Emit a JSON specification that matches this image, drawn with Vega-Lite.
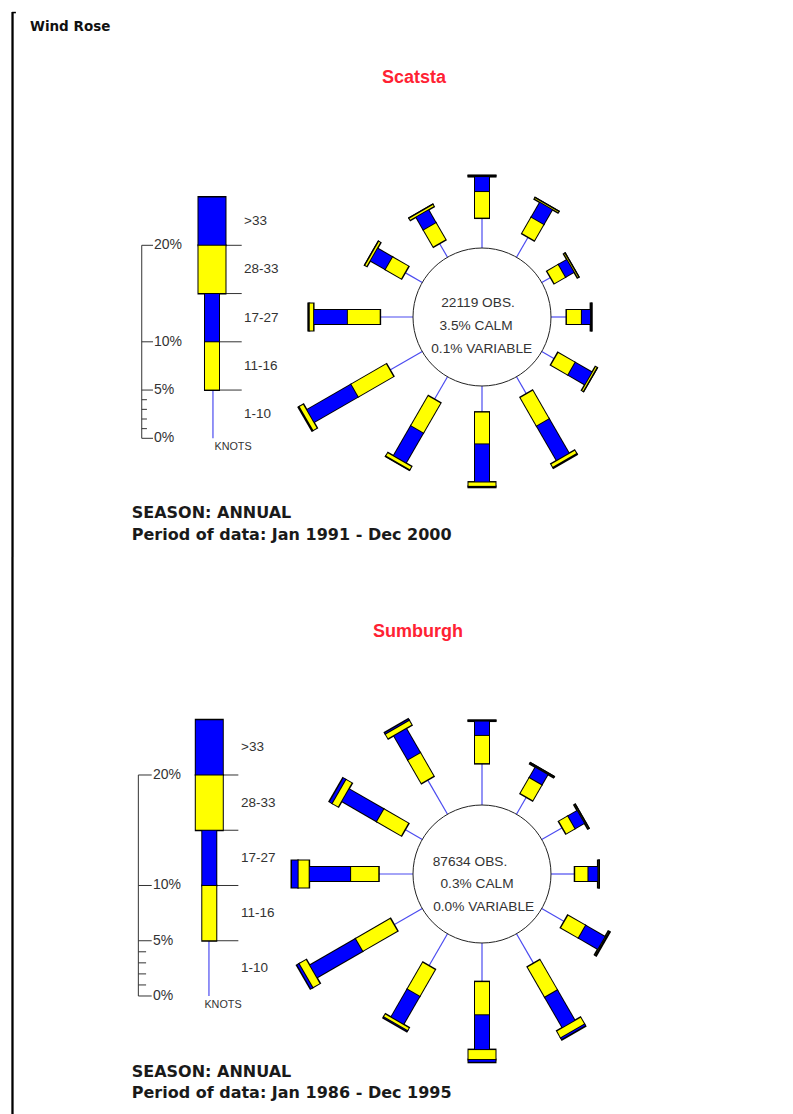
{
  "$schema": "https://vega.github.io/schema/vega-lite/v6.json",
  "padding": 0,
  "spacing": 0,
  "bounds": "flush",
  "background": "#ffffff",
  "config": {"view": {"stroke": null}, "concat": {"spacing": 0}},
  "datasets": {
    "rose": [
      {"station": "Scatsta", "dir": 0, "c1": 3.1, "c2": 2.75, "c3": 1.55, "c4": 0.1, "c5": 0},
      {"station": "Scatsta", "dir": 30, "c1": 2.4, "c2": 1.95, "c3": 1.8, "c4": 0.15, "c5": 0},
      {"station": "Scatsta", "dir": 60, "c1": 1.05, "c2": 1.35, "c3": 1.05, "c4": 0.15, "c5": 0},
      {"station": "Scatsta", "dir": 90, "c1": 1.6, "c2": 1.55, "c3": 0.95, "c4": 0.1, "c5": 0},
      {"station": "Scatsta", "dir": 120, "c1": 1.5, "c2": 2.05, "c3": 2.05, "c4": 0.2, "c5": 0},
      {"station": "Scatsta", "dir": 150, "c1": 2.05, "c2": 3.4, "c3": 4.15, "c4": 0.4, "c5": 0.1},
      {"station": "Scatsta", "dir": 180, "c1": 2.7, "c2": 3.3, "c3": 3.95, "c4": 0.45, "c5": 0.1},
      {"station": "Scatsta", "dir": 210, "c1": 2.7, "c2": 3.6, "c3": 3.6, "c4": 0.4, "c5": 0.05},
      {"station": "Scatsta", "dir": 240, "c1": 3.85, "c2": 4.25, "c3": 5.3, "c4": 0.5, "c5": 0.1},
      {"station": "Scatsta", "dir": 270, "c1": 3.4, "c2": 3.4, "c3": 3.5, "c4": 0.45, "c5": 0.1},
      {"station": "Scatsta", "dir": 300, "c1": 2.05, "c2": 1.95, "c3": 1.8, "c4": 0.25, "c5": 0},
      {"station": "Scatsta", "dir": 330, "c1": 1.65, "c2": 2.05, "c3": 1.55, "c4": 0.25, "c5": 0},
      {"station": "Sumburgh", "dir": 0, "c1": 3.75, "c2": 2.55, "c3": 1.3, "c4": 0.05, "c5": 0},
      {"station": "Sumburgh", "dir": 30, "c1": 1.8, "c2": 1.65, "c3": 1.1, "c4": 0.1, "c5": 0},
      {"station": "Sumburgh", "dir": 60, "c1": 2.15, "c2": 0.95, "c3": 1.0, "c4": 0.1, "c5": 0},
      {"station": "Sumburgh", "dir": 90, "c1": 2.15, "c2": 1.2, "c3": 0.9, "c4": 0.1, "c5": 0},
      {"station": "Sumburgh", "dir": 120, "c1": 2.35, "c2": 1.85, "c3": 2.05, "c4": 0.1, "c5": 0.05},
      {"station": "Sumburgh", "dir": 150, "c1": 3.1, "c2": 3.15, "c3": 3.2, "c4": 0.7, "c5": 0.2},
      {"station": "Sumburgh", "dir": 180, "c1": 3.5, "c2": 3.0, "c3": 3.15, "c4": 0.9, "c5": 0.25},
      {"station": "Sumburgh", "dir": 210, "c1": 3.35, "c2": 2.8, "c3": 2.95, "c4": 0.3, "c5": 0.1},
      {"station": "Sumburgh", "dir": 240, "c1": 2.95, "c2": 3.65, "c3": 4.8, "c4": 0.75, "c5": 0.25},
      {"station": "Sumburgh", "dir": 270, "c1": 3.1, "c2": 2.55, "c3": 3.75, "c4": 1.0, "c5": 0.6},
      {"station": "Sumburgh", "dir": 300, "c1": 1.8, "c2": 2.6, "c3": 3.65, "c4": 0.65, "c5": 0.3},
      {"station": "Sumburgh", "dir": 330, "c1": 3.6, "c2": 2.45, "c3": 2.55, "c4": 0.5, "c5": 0.15}
    ],
    "classes": [
      {"k": "c1", "label": "1-10"},
      {"k": "c2", "label": "11-16"},
      {"k": "c3", "label": "17-27"},
      {"k": "c4", "label": "28-33"},
      {"k": "c5", "label": ">33"}
    ],
    "ticks": [
      {"v": 0, "lab": "0%", "major": 1},
      {"v": 1, "lab": "", "major": 0},
      {"v": 2, "lab": "", "major": 0},
      {"v": 3, "lab": "", "major": 0},
      {"v": 4, "lab": "", "major": 0},
      {"v": 5, "lab": "5%", "major": 1},
      {"v": 10, "lab": "10%", "major": 1},
      {"v": 20, "lab": "20%", "major": 1}
    ]
  },
  "vconcat": [
    {
      "width": 793,
      "height": 557,
      "layer": [
        {"data": {"values": [{}]},
         "transform": [{"calculate": "-48.65", "as": "bx"}, {"calculate": "31.6", "as": "bt"}, {"calculate": "-24.87", "as": "bb"}],
         "mark": {"type": "rule", "color": "#000000", "strokeWidth": 2.3},
         "encoding": {"x": {"field": "bx", "type": "quantitative", "scale": {"domain": [-49.948, 32.228]}, "axis": null},
                      "y": {"field": "bt", "type": "quantitative", "scale": {"domain": [-24.87, 32.85]}, "axis": null},
                      "y2": {"field": "bb"}}},
        {"data": {"values": [{}]},
         "transform": [{"calculate": "-48.7", "as": "tx0"}, {"calculate": "-48.3", "as": "tx1"}, {"calculate": "31.55", "as": "ty"}],
         "mark": {"type": "rule", "color": "#000000", "strokeWidth": 1.5},
         "encoding": {"x": {"field": "tx0", "type": "quantitative", "scale": {"domain": [-49.948, 32.228]}, "axis": null},
                      "x2": {"field": "tx1"},
                      "y": {"field": "ty", "type": "quantitative", "scale": {"domain": [-24.87, 32.85]}, "axis": null}}},
        {"data": {"values": [{}]}, "mark": {"type": "text", "text": "Wind Rose", "align": "left", "baseline": "middle", "font": "DejaVu Sans", "fontWeight": "bold", "fontSize": 13.5, "color": "#111111"},
         "encoding": {"x": {"datum": -46.84, "type": "quantitative", "scale": {"domain": [-49.948, 32.228]}, "axis": null},
                      "y": {"datum": 30.1, "type": "quantitative", "scale": {"domain": [-24.87, 32.85]}, "axis": null}}},
        {"data": {"values": [{}]}, "mark": {"type": "text", "text": "Scatsta", "align": "center", "baseline": "middle", "font": "Liberation Sans", "fontWeight": "bold", "fontSize": 18, "color": "#ff2233"},
         "encoding": {"x": {"datum": -7.05, "type": "quantitative", "scale": {"domain": [-49.948, 32.228]}, "axis": null},
                      "y": {"datum": 24.77, "type": "quantitative", "scale": {"domain": [-24.87, 32.85]}, "axis": null}}},
        {"data": {"values": [{}]}, "mark": {"type": "text", "text": "SEASON: ANNUAL", "align": "left", "baseline": "middle", "font": "DejaVu Sans", "fontWeight": "bold", "fontSize": 16, "color": "#1a1a1a"},
         "encoding": {"x": {"datum": -36.3, "type": "quantitative", "scale": {"domain": [-49.948, 32.228]}, "axis": null},
                      "y": {"datum": -20.31, "type": "quantitative", "scale": {"domain": [-24.87, 32.85]}, "axis": null}}},
        {"data": {"values": [{}]}, "mark": {"type": "text", "text": "Period of data: Jan 1991 - Dec 2000", "align": "left", "baseline": "middle", "font": "DejaVu Sans", "fontWeight": "bold", "fontSize": 16, "color": "#1a1a1a"},
         "encoding": {"x": {"datum": -36.3, "type": "quantitative", "scale": {"domain": [-49.948, 32.228]}, "axis": null},
                      "y": {"datum": -22.59, "type": "quantitative", "scale": {"domain": [-24.87, 32.85]}, "axis": null}}},
        {"data": {"values": [{}]},
         "transform": [{"calculate": "-35.26", "as": "ax"}, {"calculate": "-12.57", "as": "a0"}, {"calculate": "7.43", "as": "a1"}],
         "mark": {"type": "rule", "color": "#333333", "strokeWidth": 1},
         "encoding": {"x": {"field": "ax", "type": "quantitative", "scale": {"domain": [-49.948, 32.228]}, "axis": null},
                      "y": {"field": "a0", "type": "quantitative", "scale": {"domain": [-24.87, 32.85]}, "axis": null},
                      "y2": {"field": "a1"}}},
        {"data": {"name": "ticks"},
         "transform": [{"calculate": "-12.57 + datum.v", "as": "ty"}, {"calculate": "datum.major == 1 ? -34.09 : -34.72", "as": "te"}, {"calculate": "-35.26", "as": "ts"}],
         "layer": [
           {"mark": {"type": "rule", "color": "#333333", "strokeWidth": 1},
            "encoding": {"x": {"field": "ts", "type": "quantitative", "scale": {"domain": [-49.948, 32.228]}, "axis": null},
                         "x2": {"field": "te"},
                         "y": {"field": "ty", "type": "quantitative", "scale": {"domain": [-24.87, 32.85]}, "axis": null}}},
           {"transform": [{"filter": "datum.lab != ''"}],
            "mark": {"type": "text", "align": "left", "baseline": "middle", "font": "Liberation Sans", "fontSize": 14, "color": "#333333"},
            "encoding": {"x": {"datum": -33.99, "type": "quantitative", "scale": {"domain": [-49.948, 32.228]}, "axis": null},
                         "y": {"field": "ty", "type": "quantitative", "scale": {"domain": [-24.87, 32.85]}, "axis": null},
                         "text": {"field": "lab", "type": "nominal"}}}
         ]},
        {"data": {"name": "classes"},
         "transform": [
           {"calculate": "indexof(['c1','c2','c3','c4','c5'], datum.k)", "as": "i"},
           {"calculate": "-12.57 + 5 * datum.i", "as": "lo"},
           {"calculate": "datum.lo + 5", "as": "hi"},
           {"calculate": "datum.lo + 2.5", "as": "mid"},
           {"calculate": "datum.lo - 0.1", "as": "loo"},
           {"calculate": "datum.hi + 0.1", "as": "hio"},
           {"calculate": "datum.lo + 0.05", "as": "lof"},
           {"calculate": "datum.hi - 0.05", "as": "hif"},
           {"calculate": "-27.98", "as": "lx0"},
           {"calculate": "-24.9", "as": "lx1"}
         ],
         "layer": [
           {"transform": [{"filter": "datum.i >= 1"}],
            "mark": {"type": "rule", "color": "#333333", "strokeWidth": 1},
            "encoding": {"x": {"field": "lx0", "type": "quantitative", "scale": {"domain": [-49.948, 32.228]}, "axis": null},
                         "x2": {"field": "lx1"},
                         "y": {"field": "lo", "type": "quantitative", "scale": {"domain": [-24.87, 32.85]}, "axis": null}}},
           {"transform": [{"filter": "datum.i == 0"}],
            "mark": {"type": "rule", "color": "#4b4bf0", "strokeWidth": 1.2},
            "encoding": {"x": {"datum": -27.88, "type": "quantitative", "scale": {"domain": [-49.948, 32.228]}, "axis": null},
                         "y": {"field": "lo", "type": "quantitative", "scale": {"domain": [-24.87, 32.85]}, "axis": null},
                         "y2": {"field": "hi"}}},
           {"transform": [{"filter": "datum.i == 1 || datum.i == 2"}],
            "mark": {"type": "rule", "color": "#000000", "strokeWidth": 16},
            "encoding": {"x": {"datum": -27.98, "type": "quantitative", "scale": {"domain": [-49.948, 32.228]}, "axis": null},
                         "y": {"field": "loo", "type": "quantitative", "scale": {"domain": [-24.87, 32.85]}, "axis": null},
                         "y2": {"field": "hio"}}},
           {"transform": [{"filter": "datum.i >= 3"}],
            "mark": {"type": "rule", "color": "#000000", "strokeWidth": 29},
            "encoding": {"x": {"datum": -27.98, "type": "quantitative", "scale": {"domain": [-49.948, 32.228]}, "axis": null},
                         "y": {"field": "loo", "type": "quantitative", "scale": {"domain": [-24.87, 32.85]}, "axis": null},
                         "y2": {"field": "hio"}}},
           {"transform": [{"filter": "datum.i == 1 || datum.i == 2"}],
            "mark": {"type": "rule", "strokeWidth": 14},
            "encoding": {"x": {"datum": -27.98, "type": "quantitative", "scale": {"domain": [-49.948, 32.228]}, "axis": null},
                         "y": {"field": "lof", "type": "quantitative", "scale": {"domain": [-24.87, 32.85]}, "axis": null},
                         "y2": {"field": "hif"},
                         "color": {"field": "k", "type": "nominal", "scale": {"domain": ["c2", "c3", "c4", "c5"], "range": ["#ffff00", "#0000ff", "#ffff00", "#0000ff"]}, "legend": null}}},
           {"transform": [{"filter": "datum.i >= 3"}],
            "mark": {"type": "rule", "strokeWidth": 27},
            "encoding": {"x": {"datum": -27.98, "type": "quantitative", "scale": {"domain": [-49.948, 32.228]}, "axis": null},
                         "y": {"field": "lof", "type": "quantitative", "scale": {"domain": [-24.87, 32.85]}, "axis": null},
                         "y2": {"field": "hif"},
                         "color": {"field": "k", "type": "nominal", "scale": {"domain": ["c2", "c3", "c4", "c5"], "range": ["#ffff00", "#0000ff", "#ffff00", "#0000ff"]}, "legend": null}}},
           {"mark": {"type": "text", "align": "left", "baseline": "middle", "font": "Liberation Sans", "fontSize": 13.5, "color": "#333333"},
            "encoding": {"x": {"datum": -24.66, "type": "quantitative", "scale": {"domain": [-49.948, 32.228]}, "axis": null},
                         "y": {"field": "mid", "type": "quantitative", "scale": {"domain": [-24.87, 32.85]}, "axis": null},
                         "text": {"field": "label", "type": "nominal"}}}
         ]},
        {"data": {"values": [{}]}, "mark": {"type": "text", "text": "KNOTS", "align": "center", "baseline": "middle", "font": "Liberation Sans", "fontSize": 10.8, "color": "#333333"},
         "encoding": {"x": {"datum": -25.8, "type": "quantitative", "scale": {"domain": [-49.948, 32.228]}, "axis": null},
                      "y": {"datum": -13.47, "type": "quantitative", "scale": {"domain": [-24.87, 32.85]}, "axis": null}}},
        {"data": {"name": "rose"},
         "transform": [
           {"filter": "datum.station == 'Scatsta'"},
           {"fold": ["c1", "c2", "c3", "c4", "c5"], "as": ["k", "pct"]},
           {"window": [{"op": "sum", "field": "pct", "as": "cum"}], "groupby": ["dir"], "sort": [{"field": "k", "order": "ascending"}], "frame": [null, 0]},
           {"calculate": "7.15 + datum.cum", "as": "r1"},
           {"calculate": "datum.r1 - datum.pct", "as": "r0"},
           {"calculate": "sin(datum.dir * PI / 180)", "as": "ux"},
           {"calculate": "cos(datum.dir * PI / 180)", "as": "uy"},
           {"calculate": "datum.ux * datum.r0", "as": "x0"},
           {"calculate": "datum.uy * datum.r0", "as": "y0"},
           {"calculate": "datum.ux * datum.r1", "as": "x1"},
           {"calculate": "datum.uy * datum.r1", "as": "y1"},
           {"calculate": "datum.ux * (datum.r0 - 0.1)", "as": "xo0"},
           {"calculate": "datum.uy * (datum.r0 - 0.1)", "as": "yo0"},
           {"calculate": "datum.ux * (datum.r1 + 0.1)", "as": "xo1"},
           {"calculate": "datum.uy * (datum.r1 + 0.1)", "as": "yo1"},
           {"calculate": "datum.ux * (datum.r0 + 0.05)", "as": "xf0"},
           {"calculate": "datum.uy * (datum.r0 + 0.05)", "as": "yf0"},
           {"calculate": "datum.ux * (datum.r1 - 0.05)", "as": "xf1"},
           {"calculate": "datum.uy * (datum.r1 - 0.05)", "as": "yf1"}
         ],
         "layer": [
           {"transform": [{"filter": "datum.k == 'c1'"}],
            "mark": {"type": "rule", "color": "#4b4bf0", "strokeWidth": 1.2},
            "encoding": {"x": {"field": "x0", "type": "quantitative", "scale": {"domain": [-49.948, 32.228]}, "axis": null},
                         "y": {"field": "y0", "type": "quantitative", "scale": {"domain": [-24.87, 32.85]}, "axis": null},
                         "x2": {"field": "x1"}, "y2": {"field": "y1"}}},
           {"transform": [{"filter": "datum.k == 'c2' || datum.k == 'c3'"}],
            "mark": {"type": "rule", "color": "#000000", "strokeWidth": 16},
            "encoding": {"x": {"field": "xo0", "type": "quantitative", "scale": {"domain": [-49.948, 32.228]}, "axis": null},
                         "y": {"field": "yo0", "type": "quantitative", "scale": {"domain": [-24.87, 32.85]}, "axis": null},
                         "x2": {"field": "xo1"}, "y2": {"field": "yo1"}}},
           {"transform": [{"filter": "datum.k == 'c4' || datum.k == 'c5'"}],
            "mark": {"type": "rule", "color": "#000000", "strokeWidth": 29},
            "encoding": {"x": {"field": "xo0", "type": "quantitative", "scale": {"domain": [-49.948, 32.228]}, "axis": null},
                         "y": {"field": "yo0", "type": "quantitative", "scale": {"domain": [-24.87, 32.85]}, "axis": null},
                         "x2": {"field": "xo1"}, "y2": {"field": "yo1"}}},
           {"transform": [{"filter": "(datum.k == 'c2' || datum.k == 'c3') && datum.pct > 0.1"}],
            "mark": {"type": "rule", "strokeWidth": 14},
            "encoding": {"x": {"field": "xf0", "type": "quantitative", "scale": {"domain": [-49.948, 32.228]}, "axis": null},
                         "y": {"field": "yf0", "type": "quantitative", "scale": {"domain": [-24.87, 32.85]}, "axis": null},
                         "x2": {"field": "xf1"}, "y2": {"field": "yf1"},
                         "color": {"field": "k", "type": "nominal", "scale": {"domain": ["c2", "c3", "c4", "c5"], "range": ["#ffff00", "#0000ff", "#ffff00", "#0000ff"]}, "legend": null}}},
           {"transform": [{"filter": "(datum.k == 'c4' || datum.k == 'c5') && datum.pct > 0.1"}],
            "mark": {"type": "rule", "strokeWidth": 27},
            "encoding": {"x": {"field": "xf0", "type": "quantitative", "scale": {"domain": [-49.948, 32.228]}, "axis": null},
                         "y": {"field": "yf0", "type": "quantitative", "scale": {"domain": [-24.87, 32.85]}, "axis": null},
                         "x2": {"field": "xf1"}, "y2": {"field": "yf1"},
                         "color": {"field": "k", "type": "nominal", "scale": {"domain": ["c2", "c3", "c4", "c5"], "range": ["#ffff00", "#0000ff", "#ffff00", "#0000ff"]}, "legend": null}}}
         ]},
        {"data": {"values": [{}]}, "mark": {"type": "point", "shape": "circle", "size": 19044, "filled": false, "stroke": "#222222", "strokeWidth": 1, "opacity": 1},
         "encoding": {"x": {"datum": 0, "type": "quantitative", "scale": {"domain": [-49.948, 32.228]}, "axis": null},
                      "y": {"datum": 0, "type": "quantitative", "scale": {"domain": [-24.87, 32.85]}, "axis": null}}},
        {"data": {"values": [{}]}, "mark": {"type": "text", "text": "22119 OBS.", "align": "center", "baseline": "middle", "font": "Liberation Sans", "fontSize": 13.7, "color": "#333333"},
         "encoding": {"x": {"datum": -0.41, "type": "quantitative", "scale": {"domain": [-49.948, 32.228]}, "axis": null},
                      "y": {"datum": 1.45, "type": "quantitative", "scale": {"domain": [-24.87, 32.85]}, "axis": null}}},
        {"data": {"values": [{}]}, "mark": {"type": "text", "text": "3.5% CALM", "align": "center", "baseline": "middle", "font": "Liberation Sans", "fontSize": 13.7, "color": "#333333"},
         "encoding": {"x": {"datum": -0.62, "type": "quantitative", "scale": {"domain": [-49.948, 32.228]}, "axis": null},
                      "y": {"datum": -0.93, "type": "quantitative", "scale": {"domain": [-24.87, 32.85]}, "axis": null}}},
        {"data": {"values": [{}]}, "mark": {"type": "text", "text": "0.1% VARIABLE", "align": "center", "baseline": "middle", "font": "Liberation Sans", "fontSize": 13.7, "color": "#333333"},
         "encoding": {"x": {"datum": -0.03, "type": "quantitative", "scale": {"domain": [-49.948, 32.228]}, "axis": null},
                      "y": {"datum": -3.32, "type": "quantitative", "scale": {"domain": [-24.87, 32.85]}, "axis": null}}}
      ]
    },
    {
      "width": 793,
      "height": 557,
      "layer": [
        {"data": {"values": [{}]},
         "transform": [{"calculate": "-42.49", "as": "bx"}, {"calculate": "28.688", "as": "bt"}, {"calculate": "-21.719", "as": "bb"}],
         "mark": {"type": "rule", "color": "#000000", "strokeWidth": 2.3},
         "encoding": {"x": {"field": "bx", "type": "quantitative", "scale": {"domain": [-43.62, 28.145]}, "axis": null},
                      "y": {"field": "bt", "type": "quantitative", "scale": {"domain": [-21.719, 28.688]}, "axis": null},
                      "y2": {"field": "bb"}}},
        {"data": {"values": [{}]}, "mark": {"type": "text", "text": "Sumburgh", "align": "center", "baseline": "middle", "font": "Liberation Sans", "fontWeight": "bold", "fontSize": 18, "color": "#ff2233"},
         "encoding": {"x": {"datum": -5.79, "type": "quantitative", "scale": {"domain": [-43.62, 28.145]}, "axis": null},
                      "y": {"datum": 21.93, "type": "quantitative", "scale": {"domain": [-21.719, 28.688]}, "axis": null}}},
        {"data": {"values": [{}]}, "mark": {"type": "text", "text": "SEASON: ANNUAL", "align": "left", "baseline": "middle", "font": "DejaVu Sans", "fontWeight": "bold", "fontSize": 16, "color": "#1a1a1a"},
         "encoding": {"x": {"datum": -31.7, "type": "quantitative", "scale": {"domain": [-43.62, 28.145]}, "axis": null},
                      "y": {"datum": -17.89, "type": "quantitative", "scale": {"domain": [-21.719, 28.688]}, "axis": null}}},
        {"data": {"values": [{}]}, "mark": {"type": "text", "text": "Period of data: Jan 1986 - Dec 1995", "align": "left", "baseline": "middle", "font": "DejaVu Sans", "fontWeight": "bold", "fontSize": 16, "color": "#1a1a1a"},
         "encoding": {"x": {"datum": -31.7, "type": "quantitative", "scale": {"domain": [-43.62, 28.145]}, "axis": null},
                      "y": {"datum": -19.82, "type": "quantitative", "scale": {"domain": [-21.719, 28.688]}, "axis": null}}},
        {"data": {"values": [{}]},
         "transform": [{"calculate": "-31.1", "as": "ax"}, {"calculate": "-11.04", "as": "a0"}, {"calculate": "8.96", "as": "a1"}],
         "mark": {"type": "rule", "color": "#333333", "strokeWidth": 1},
         "encoding": {"x": {"field": "ax", "type": "quantitative", "scale": {"domain": [-43.62, 28.145]}, "axis": null},
                      "y": {"field": "a0", "type": "quantitative", "scale": {"domain": [-21.719, 28.688]}, "axis": null},
                      "y2": {"field": "a1"}}},
        {"data": {"name": "ticks"},
         "transform": [{"calculate": "-11.04 + datum.v", "as": "ty"}, {"calculate": "datum.major == 1 ? -29.89 : -30.4", "as": "te"}, {"calculate": "-31.1", "as": "ts"}],
         "layer": [
           {"mark": {"type": "rule", "color": "#333333", "strokeWidth": 1},
            "encoding": {"x": {"field": "ts", "type": "quantitative", "scale": {"domain": [-43.62, 28.145]}, "axis": null},
                         "x2": {"field": "te"},
                         "y": {"field": "ty", "type": "quantitative", "scale": {"domain": [-21.719, 28.688]}, "axis": null}}},
           {"transform": [{"filter": "datum.lab != ''"}],
            "mark": {"type": "text", "align": "left", "baseline": "middle", "font": "Liberation Sans", "fontSize": 14, "color": "#333333"},
            "encoding": {"x": {"datum": -29.77, "type": "quantitative", "scale": {"domain": [-43.62, 28.145]}, "axis": null},
                         "y": {"field": "ty", "type": "quantitative", "scale": {"domain": [-21.719, 28.688]}, "axis": null},
                         "text": {"field": "lab", "type": "nominal"}}}
         ]},
        {"data": {"name": "classes"},
         "transform": [
           {"calculate": "indexof(['c1','c2','c3','c4','c5'], datum.k)", "as": "i"},
           {"calculate": "-11.04 + 5 * datum.i", "as": "lo"},
           {"calculate": "datum.lo + 5", "as": "hi"},
           {"calculate": "datum.lo + 2.5", "as": "mid"},
           {"calculate": "datum.lo - 0.09", "as": "loo"},
           {"calculate": "datum.hi + 0.09", "as": "hio"},
           {"calculate": "datum.lo + 0.045", "as": "lof"},
           {"calculate": "datum.hi - 0.045", "as": "hif"},
           {"calculate": "-24.68", "as": "lx0"},
           {"calculate": "-22.05", "as": "lx1"}
         ],
         "layer": [
           {"transform": [{"filter": "datum.i >= 1"}],
            "mark": {"type": "rule", "color": "#333333", "strokeWidth": 1},
            "encoding": {"x": {"field": "lx0", "type": "quantitative", "scale": {"domain": [-43.62, 28.145]}, "axis": null},
                         "x2": {"field": "lx1"},
                         "y": {"field": "lo", "type": "quantitative", "scale": {"domain": [-21.719, 28.688]}, "axis": null}}},
           {"transform": [{"filter": "datum.i == 0"}],
            "mark": {"type": "rule", "color": "#4b4bf0", "strokeWidth": 1.2},
            "encoding": {"x": {"datum": -24.71, "type": "quantitative", "scale": {"domain": [-43.62, 28.145]}, "axis": null},
                         "y": {"field": "lo", "type": "quantitative", "scale": {"domain": [-21.719, 28.688]}, "axis": null},
                         "y2": {"field": "hi"}}},
           {"transform": [{"filter": "datum.i == 1 || datum.i == 2"}],
            "mark": {"type": "rule", "color": "#000000", "strokeWidth": 16},
            "encoding": {"x": {"datum": -24.68, "type": "quantitative", "scale": {"domain": [-43.62, 28.145]}, "axis": null},
                         "y": {"field": "loo", "type": "quantitative", "scale": {"domain": [-21.719, 28.688]}, "axis": null},
                         "y2": {"field": "hio"}}},
           {"transform": [{"filter": "datum.i >= 3"}],
            "mark": {"type": "rule", "color": "#000000", "strokeWidth": 29},
            "encoding": {"x": {"datum": -24.68, "type": "quantitative", "scale": {"domain": [-43.62, 28.145]}, "axis": null},
                         "y": {"field": "loo", "type": "quantitative", "scale": {"domain": [-21.719, 28.688]}, "axis": null},
                         "y2": {"field": "hio"}}},
           {"transform": [{"filter": "datum.i == 1 || datum.i == 2"}],
            "mark": {"type": "rule", "strokeWidth": 14},
            "encoding": {"x": {"datum": -24.68, "type": "quantitative", "scale": {"domain": [-43.62, 28.145]}, "axis": null},
                         "y": {"field": "lof", "type": "quantitative", "scale": {"domain": [-21.719, 28.688]}, "axis": null},
                         "y2": {"field": "hif"},
                         "color": {"field": "k", "type": "nominal", "scale": {"domain": ["c2", "c3", "c4", "c5"], "range": ["#ffff00", "#0000ff", "#ffff00", "#0000ff"]}, "legend": null}}},
           {"transform": [{"filter": "datum.i >= 3"}],
            "mark": {"type": "rule", "strokeWidth": 27},
            "encoding": {"x": {"datum": -24.68, "type": "quantitative", "scale": {"domain": [-43.62, 28.145]}, "axis": null},
                         "y": {"field": "lof", "type": "quantitative", "scale": {"domain": [-21.719, 28.688]}, "axis": null},
                         "y2": {"field": "hif"},
                         "color": {"field": "k", "type": "nominal", "scale": {"domain": ["c2", "c3", "c4", "c5"], "range": ["#ffff00", "#0000ff", "#ffff00", "#0000ff"]}, "legend": null}}},
           {"mark": {"type": "text", "align": "left", "baseline": "middle", "font": "Liberation Sans", "fontSize": 13.5, "color": "#333333"},
            "encoding": {"x": {"datum": -21.81, "type": "quantitative", "scale": {"domain": [-43.62, 28.145]}, "axis": null},
                         "y": {"field": "mid", "type": "quantitative", "scale": {"domain": [-21.719, 28.688]}, "axis": null},
                         "text": {"field": "label", "type": "nominal"}}}
         ]},
        {"data": {"values": [{}]}, "mark": {"type": "text", "text": "KNOTS", "align": "center", "baseline": "middle", "font": "Liberation Sans", "fontSize": 10.8, "color": "#333333"},
         "encoding": {"x": {"datum": -23.44, "type": "quantitative", "scale": {"domain": [-43.62, 28.145]}, "axis": null},
                      "y": {"datum": -11.86, "type": "quantitative", "scale": {"domain": [-21.719, 28.688]}, "axis": null}}},
        {"data": {"name": "rose"},
         "transform": [
           {"filter": "datum.station == 'Sumburgh'"},
           {"fold": ["c1", "c2", "c3", "c4", "c5"], "as": ["k", "pct"]},
           {"window": [{"op": "sum", "field": "pct", "as": "cum"}], "groupby": ["dir"], "sort": [{"field": "k", "order": "ascending"}], "frame": [null, 0]},
           {"calculate": "6.24 + datum.cum", "as": "r1"},
           {"calculate": "datum.r1 - datum.pct", "as": "r0"},
           {"calculate": "sin(datum.dir * PI / 180)", "as": "ux"},
           {"calculate": "cos(datum.dir * PI / 180)", "as": "uy"},
           {"calculate": "datum.ux * datum.r0", "as": "x0"},
           {"calculate": "datum.uy * datum.r0", "as": "y0"},
           {"calculate": "datum.ux * datum.r1", "as": "x1"},
           {"calculate": "datum.uy * datum.r1", "as": "y1"},
           {"calculate": "datum.ux * (datum.r0 - 0.09)", "as": "xo0"},
           {"calculate": "datum.uy * (datum.r0 - 0.09)", "as": "yo0"},
           {"calculate": "datum.ux * (datum.r1 + 0.09)", "as": "xo1"},
           {"calculate": "datum.uy * (datum.r1 + 0.09)", "as": "yo1"},
           {"calculate": "datum.ux * (datum.r0 + 0.045)", "as": "xf0"},
           {"calculate": "datum.uy * (datum.r0 + 0.045)", "as": "yf0"},
           {"calculate": "datum.ux * (datum.r1 - 0.045)", "as": "xf1"},
           {"calculate": "datum.uy * (datum.r1 - 0.045)", "as": "yf1"}
         ],
         "layer": [
           {"transform": [{"filter": "datum.k == 'c1'"}],
            "mark": {"type": "rule", "color": "#4b4bf0", "strokeWidth": 1.2},
            "encoding": {"x": {"field": "x0", "type": "quantitative", "scale": {"domain": [-43.62, 28.145]}, "axis": null},
                         "y": {"field": "y0", "type": "quantitative", "scale": {"domain": [-21.719, 28.688]}, "axis": null},
                         "x2": {"field": "x1"}, "y2": {"field": "y1"}}},
           {"transform": [{"filter": "datum.k == 'c2' || datum.k == 'c3'"}],
            "mark": {"type": "rule", "color": "#000000", "strokeWidth": 16},
            "encoding": {"x": {"field": "xo0", "type": "quantitative", "scale": {"domain": [-43.62, 28.145]}, "axis": null},
                         "y": {"field": "yo0", "type": "quantitative", "scale": {"domain": [-21.719, 28.688]}, "axis": null},
                         "x2": {"field": "xo1"}, "y2": {"field": "yo1"}}},
           {"transform": [{"filter": "datum.k == 'c4' || datum.k == 'c5'"}],
            "mark": {"type": "rule", "color": "#000000", "strokeWidth": 29},
            "encoding": {"x": {"field": "xo0", "type": "quantitative", "scale": {"domain": [-43.62, 28.145]}, "axis": null},
                         "y": {"field": "yo0", "type": "quantitative", "scale": {"domain": [-21.719, 28.688]}, "axis": null},
                         "x2": {"field": "xo1"}, "y2": {"field": "yo1"}}},
           {"transform": [{"filter": "(datum.k == 'c2' || datum.k == 'c3') && datum.pct > 0.09"}],
            "mark": {"type": "rule", "strokeWidth": 14},
            "encoding": {"x": {"field": "xf0", "type": "quantitative", "scale": {"domain": [-43.62, 28.145]}, "axis": null},
                         "y": {"field": "yf0", "type": "quantitative", "scale": {"domain": [-21.719, 28.688]}, "axis": null},
                         "x2": {"field": "xf1"}, "y2": {"field": "yf1"},
                         "color": {"field": "k", "type": "nominal", "scale": {"domain": ["c2", "c3", "c4", "c5"], "range": ["#ffff00", "#0000ff", "#ffff00", "#0000ff"]}, "legend": null}}},
           {"transform": [{"filter": "(datum.k == 'c4' || datum.k == 'c5') && datum.pct > 0.09"}],
            "mark": {"type": "rule", "strokeWidth": 27},
            "encoding": {"x": {"field": "xf0", "type": "quantitative", "scale": {"domain": [-43.62, 28.145]}, "axis": null},
                         "y": {"field": "yf0", "type": "quantitative", "scale": {"domain": [-21.719, 28.688]}, "axis": null},
                         "x2": {"field": "xf1"}, "y2": {"field": "yf1"},
                         "color": {"field": "k", "type": "nominal", "scale": {"domain": ["c2", "c3", "c4", "c5"], "range": ["#ffff00", "#0000ff", "#ffff00", "#0000ff"]}, "legend": null}}}
         ]},
        {"data": {"values": [{}]}, "mark": {"type": "point", "shape": "circle", "size": 19044, "filled": false, "stroke": "#222222", "strokeWidth": 1, "opacity": 1},
         "encoding": {"x": {"datum": 0, "type": "quantitative", "scale": {"domain": [-43.62, 28.145]}, "axis": null},
                      "y": {"datum": 0, "type": "quantitative", "scale": {"domain": [-21.719, 28.688]}, "axis": null}}},
        {"data": {"values": [{}]}, "mark": {"type": "text", "text": "87634 OBS.", "align": "center", "baseline": "middle", "font": "Liberation Sans", "fontSize": 13.7, "color": "#333333"},
         "encoding": {"x": {"datum": -1.09, "type": "quantitative", "scale": {"domain": [-43.62, 28.145]}, "axis": null},
                      "y": {"datum": 1.11, "type": "quantitative", "scale": {"domain": [-21.719, 28.688]}, "axis": null}}},
        {"data": {"values": [{}]}, "mark": {"type": "text", "text": "0.3% CALM", "align": "center", "baseline": "middle", "font": "Liberation Sans", "fontSize": 13.7, "color": "#333333"},
         "encoding": {"x": {"datum": -0.45, "type": "quantitative", "scale": {"domain": [-43.62, 28.145]}, "axis": null},
                      "y": {"datum": -0.93, "type": "quantitative", "scale": {"domain": [-21.719, 28.688]}, "axis": null}}},
        {"data": {"values": [{}]}, "mark": {"type": "text", "text": "0.0% VARIABLE", "align": "center", "baseline": "middle", "font": "Liberation Sans", "fontSize": 13.7, "color": "#333333"},
         "encoding": {"x": {"datum": 0.15, "type": "quantitative", "scale": {"domain": [-43.62, 28.145]}, "axis": null},
                      "y": {"datum": -2.96, "type": "quantitative", "scale": {"domain": [-21.719, 28.688]}, "axis": null}}}
      ]
    }
  ]
}
